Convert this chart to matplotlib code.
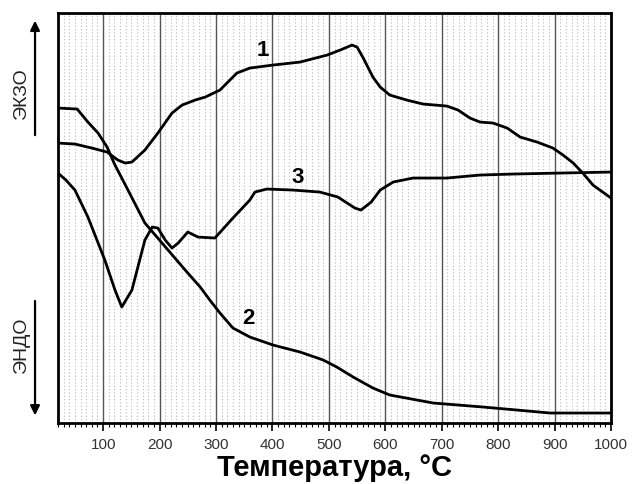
import numpy as np
import matplotlib
matplotlib.use("Agg")
import matplotlib.pyplot as plt
from matplotlib.ticker import MultipleLocator

plt.rcParams['font.family'] = ['Liberation Sans', 'DejaVu Sans']

# DTA curves, temperature in °C, signal in arbitrary units
t1 = [20, 50, 80, 107, 126, 139, 151, 174, 197, 222, 240, 263, 281, 307, 337,
      360, 401, 449, 497, 520, 541, 550, 561, 578, 591, 608, 638, 667, 709, 729,
      750, 768, 791, 816, 839, 869, 897, 915, 933, 950, 968, 1000]
s1 = [280, 279, 275, 271, 263, 260, 261, 273, 290, 310, 318, 323, 326, 333, 350,
      355, 358, 361, 368, 373, 378, 376, 365, 346, 336, 328, 323, 319, 317, 313,
      305, 301, 300, 295, 286, 281, 275, 268, 260, 250, 238, 225]

t2 = [20, 54, 73, 91, 107, 117, 121, 144, 174, 215, 250, 272, 289, 307, 330,
      360, 401, 449, 490, 514, 543, 578, 608, 685, 773, 833, 892, 1000]
s2 = [315, 314, 301, 290, 276, 263, 258, 233, 200, 173, 150, 136, 123, 110, 95,
      86, 78, 71, 63, 56, 46, 35, 28, 20, 16, 13, 10, 10]

t3 = [20, 34, 50, 73, 103, 121, 133, 151, 174, 187, 197, 210, 222, 233, 250, 268,
      298, 330, 360, 369, 390, 436, 484, 516, 546, 557, 575, 591, 614, 649, 709,
      768, 826, 910, 1000]
s3 = [250, 243, 233, 206, 163, 133, 116, 133, 183, 196, 195, 183, 175, 180, 191, 186,
      185, 205, 223, 231, 234, 233, 231, 226, 215, 213, 221, 233, 241, 245, 245,
      248, 249, 250, 251]

curve_labels = ['1', '2', '3']
label_pos = [(383, 373), (357, 105), (445, 246)]

fig = plt.figure(figsize=(6.38, 4.84), dpi=100)
ax = fig.add_axes([0.0909, 0.126, 0.8668, 0.847])

# dotted paper grid
for x in range(30, 1000, 10):
    if x % 100:
        ax.axvline(x, color='#b8b8b8', lw=0.8, ls=(0, (1, 2)), zorder=0)
for x in range(100, 1000, 100):
    ax.axvline(x, color='#555555', lw=1.0, zorder=1)

for t, s in [(t1, s1), (t2, s2), (t3, s3)]:
    ax.plot(t, s, color='black', lw=2.0, solid_joinstyle='round',
            solid_capstyle='round', zorder=3)

for lab, (x, y) in zip(curve_labels, label_pos):
    ax.text(x, y, lab, fontsize=16, fontweight='bold', ha='center', va='center')

ax.set_xlim(20, 1000)
ax.set_ylim(0, 410)
ax.xaxis.set_major_locator(MultipleLocator(100))
ax.xaxis.set_minor_locator(MultipleLocator(10))
ax.tick_params(axis='x', which='major', direction='out', length=6, width=1.2,
               labelsize=11, labelcolor='#333333', pad=5)
ax.tick_params(axis='x', which='minor', direction='out', length=3, width=0.8)
ax.set_yticks([])
for sp in ax.spines.values():
    sp.set_linewidth(2)
ax.set_xlabel('Температура, °C', fontsize=21, fontweight='bold', labelpad=1)

# exo / endo arrows on the left
ax.annotate('', xy=(0.0549, 0.963), xytext=(0.0549, 0.715), xycoords='figure fraction',
            arrowprops=dict(arrowstyle='-|>', lw=1.6, mutation_scale=14, color='black'))
ax.annotate('', xy=(0.0549, 0.136), xytext=(0.0549, 0.384), xycoords='figure fraction',
            arrowprops=dict(arrowstyle='-|>', lw=1.6, mutation_scale=14, color='black'))
fig.text(0.033, 0.808, 'ЭКЗО', rotation=90, fontsize=14, color='#222222',
         ha='center', va='center')
fig.text(0.033, 0.287, 'ЭНДО', rotation=90, fontsize=14, color='#222222',
         ha='center', va='center')

fig.savefig('out.png', dpi=100)
